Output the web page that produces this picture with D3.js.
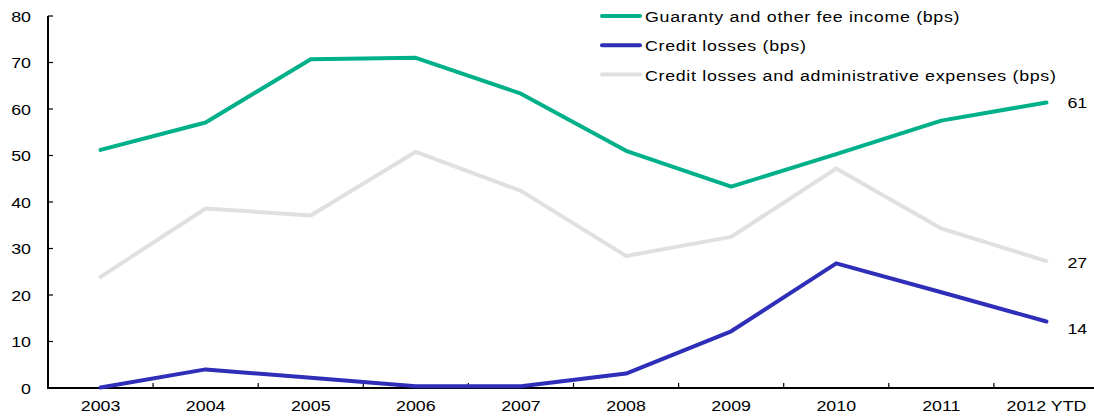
<!DOCTYPE html>
<html>
<head>
<meta charset="utf-8">
<script src="https://cdn.jsdelivr.net/npm/d3@7"></script>
<style>
  html, body { margin: 0; padding: 0; background: #fff; }
  svg { display: block; font-family: "Liberation Sans", Arial, sans-serif; }
</style>
</head>
<body>
<svg id="chart" width="1094" height="416"></svg>
<script>
// Categories and series (basis points)
const years = ["2003", "2004", "2005", "2006", "2007", "2008", "2009", "2010", "2011", "2012 YTD"];
const feeIncome = [51.2, 57.1, 70.7, 71.0, 63.3, 51.0, 43.3, 50.3, 57.5, 61.4];
const creditLosses = [0.1, 4.0, 2.2, 0.4, 0.4, 3.1, 12.2, 26.8, 20.6, 14.3];
const lossesAndAdmin = [23.9, 38.6, 37.1, 50.8, 42.4, 28.4, 32.5, 47.2, 34.3, 27.3];
const yTicks = [0, 10, 20, 30, 40, 50, 60, 70, 80];

const seriesNames = [
  "Guaranty and other fee income (bps)",
  "Credit losses (bps)",
  "Credit losses and administrative expenses (bps)"
];
const seriesColors = ["#00B088", "#2E2EB8", "#E0E0E0"];
const seriesValues = [feeIncome, creditLosses, lossesAndAdmin];

const W = 1094, H = 416;
const plotLeft = 48, plotTop = 16, plotBottom = 388;
const band = 105.1;
const stretch = 1.15; // text is drawn slightly wide

const svg = d3.select("#chart");

const x = d3.scalePoint()
  .domain(years)
  .range([plotLeft + band / 2, plotLeft + band * (years.length - 0.5)]);
const y = d3.scaleLinear().domain([0, 80]).range([plotBottom, plotTop]);

function wideText(sel) {
  // apply horizontal stretch around the text's own anchor point
  sel.each(function () {
    const t = d3.select(this);
    const tx = +t.attr("x") || 0, ty = +t.attr("y") || 0;
    t.attr("x", null).attr("y", null)
     .attr("transform", `translate(${tx},${ty}) scale(${stretch},1)`);
  });
}

// Y axis
const gy = svg.append("g").attr("transform", `translate(${plotLeft},0)`);
gy.append("line").attr("x1", 0).attr("x2", 0).attr("y1", plotTop).attr("y2", plotBottom)
  .attr("stroke", "#000").attr("stroke-width", 2);
gy.selectAll("line.tick").data(yTicks).join("line")
  .attr("class", "tick")
  .attr("x1", 0).attr("x2", 5)
  .attr("y1", d => y(d)).attr("y2", d => y(d))
  .attr("stroke", "#000").attr("stroke-width", 1.2);
gy.selectAll("text").data(yTicks).join("text")
  .attr("x", -17).attr("y", d => y(d) + 5.5)
  .attr("text-anchor", "end")
  .attr("font-size", 15.5).attr("fill", "#000")
  .text(d => d)
  .call(wideText);

// X axis (ticks sit between categories)
const gx = svg.append("g");
gx.append("line").attr("x1", plotLeft - 1).attr("x2", W).attr("y1", plotBottom).attr("y2", plotBottom)
  .attr("stroke", "#000").attr("stroke-width", 2.2);
const bounds = d3.range(1, years.length).map(i => (x(years[i - 1]) + x(years[i])) / 2);
gx.selectAll("line.tick").data(bounds).join("line")
  .attr("class", "tick")
  .attr("x1", d => d).attr("x2", d => d)
  .attr("y1", plotBottom).attr("y2", plotBottom - 5)
  .attr("stroke", "#000").attr("stroke-width", 1.2);
gx.selectAll("text").data(years).join("text")
  .attr("x", d => x(d)).attr("y", 411)
  .attr("text-anchor", "middle")
  .attr("font-size", 15.5).attr("fill", "#000")
  .text(d => d)
  .call(wideText);

// Lines
const line = d3.line().x((d, i) => x(years[i])).y(d => y(d));
// draw grey first so the coloured lines sit on top
[2, 0, 1].forEach(k => {
  svg.append("path")
    .datum(seriesValues[k])
    .attr("d", line)
    .attr("fill", "none")
    .attr("stroke", seriesColors[k])
    .attr("stroke-width", 4)
    .attr("stroke-linejoin", "round")
    .attr("stroke-linecap", "round");
});

// End-of-line value labels
const lastIdx = years.length - 1;
const endOffsets = [0, 6, 1];
seriesValues.forEach((vals, k) => {
  svg.append("text")
    .attr("x", x(years[lastIdx]) + 21)
    .attr("y", y(vals[lastIdx]) + 6 + endOffsets[k])
    .attr("font-size", 15.5).attr("fill", "#000")
    .text(Math.round(vals[lastIdx]))
    .call(wideText);
});

// Legend
const lg = svg.append("g");
seriesNames.forEach((name, k) => {
  const ly = 16 + k * 29.3;
  lg.append("line")
    .attr("x1", 602).attr("x2", 640)
    .attr("y1", ly).attr("y2", ly)
    .attr("stroke", seriesColors[k]).attr("stroke-width", 4)
    .attr("stroke-linecap", "round");
  lg.append("text")
    .attr("x", 645).attr("y", ly + 6)
    .attr("font-size", 15.5).attr("fill", "#000")
    .attr("letter-spacing", 0.6)
    .text(name)
    .call(wideText);
});
</script>
</body>
</html>
